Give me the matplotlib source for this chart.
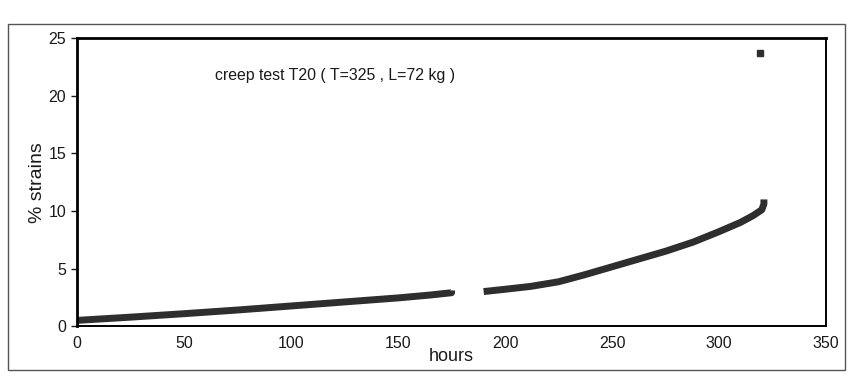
import matplotlib.pyplot as plt
from matplotlib.patches import Rectangle

plt.rcParams['font.family'] = ['Liberation Sans', 'DejaVu Sans']

# first run of readings, up to the gap
hours_a = [0, 25, 50, 75, 100, 125, 150, 165, 175, 175]
strain_a = [0.5, 0.78, 1.08, 1.4, 1.75, 2.1, 2.45, 2.7, 2.9, 3.1]
# second run after the gap
hours_b = [190, 200, 212, 225, 237, 250, 262, 275, 288, 300, 310, 316, 320, 321, 321]
strain_b = [3.0, 3.2, 3.45, 3.85, 4.45, 5.15, 5.8, 6.5, 7.3, 8.2, 9.0, 9.6, 10.1, 10.6, 11.0]
# isolated reading at rupture
hours_c = [319]
strain_c = [23.7]

line_col = '#2e2e2e'
text_col = '#1a1a1a'

fig = plt.figure(figsize=(8.48, 3.74), dpi=100)
fig.patches.append(Rectangle((0.009, 0.01), 0.987, 0.925, transform=fig.transFigure,
                             fill=False, edgecolor='#555555', linewidth=1.0))
ax = fig.add_axes([0.091, 0.128, 0.883, 0.77])

ax.plot(hours_a, strain_a, color=line_col, linewidth=5, solid_capstyle='butt')
ax.plot(hours_b, strain_b, color=line_col, linewidth=5, solid_capstyle='butt')
ax.plot(hours_c, strain_c, marker='s', markersize=4, linestyle='none', color=line_col)

ax.set_xlim(0, 350)
ax.set_ylim(0, 25)
ax.set_xticks(range(0, 351, 50))
ax.set_yticks(range(0, 26, 5))
ax.tick_params(axis='x', length=0, pad=7, labelsize=11.5, colors=text_col)
ax.tick_params(axis='y', length=4, width=1, direction='out', pad=4, labelsize=11.5, colors=text_col)

for side in ['top', 'left']:
    ax.spines[side].set_linewidth(2.0)
for side in ['bottom', 'right']:
    ax.spines[side].set_linewidth(1.4)

ax.set_ylabel('% strains', fontsize=14, color=text_col, labelpad=2)
ax.set_xlabel('hours', fontsize=13, color=text_col, labelpad=-2)
ax.text(0.344, 0.871, 'creep test T20 ( T=325 , L=72 kg )', transform=ax.transAxes,
        ha='center', va='center', fontsize=11.4, color=text_col)

fig.savefig('out.png', dpi=100)
